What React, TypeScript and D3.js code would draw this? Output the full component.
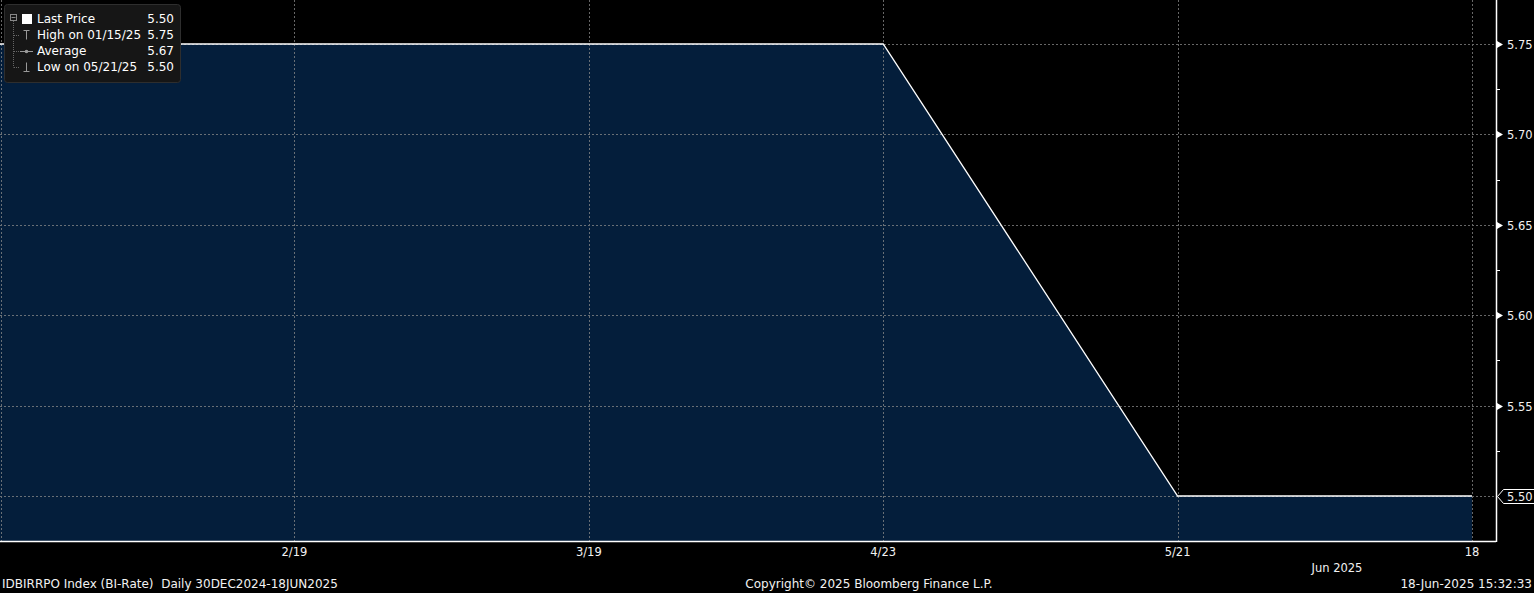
import React, { useEffect, useRef } from 'react';
import * as d3 from 'd3';

// meeting dates of the BI-Rate series and the rate on each
const dates = ['2025-01-15', '2025-02-19', '2025-03-19', '2025-04-23', '2025-05-21', '2025-06-18'];
const rates = [5.75, 5.75, 5.75, 5.75, 5.5, 5.5];
const xTickLabels = ['', '2/19', '3/19', '4/23', '5/21', '18'];
const yTicks = [5.5, 5.55, 5.6, 5.65, 5.7, 5.75];
const legendLabels = ['Last Price', 'High on 01/15/25', 'Average', 'Low on 05/21/25'];

const FONT = '"DejaVu Sans", Tahoma, sans-serif';

const App = () => {
  const svgRef = useRef<SVGSVGElement | null>(null);
  const width = 1534;
  const height = 593;

  useEffect(() => {
    document.body.style.margin = '0';
    document.body.style.background = '#000';
    const svg = d3.select(svgRef.current);
    svg.selectAll('*').remove();

    const plotRight = 1496;
    const plotBottom = 541;

    const data = dates.map((d, i) => ({ date: d, value: rates[i], i }));
    const x = d3.scaleLinear().domain([0, data.length - 1]).range([0, 1472]);
    // 5.75 at y=44, 5.50 at y=496
    const y = d3.scaleLinear().domain([5.5, 5.75]).range([496, 44]);

    svg.append('rect').attr('width', width).attr('height', height).attr('fill', '#000');

    // area under the line
    const area = d3
      .area<{ value: number; i: number }>()
      .x((d) => x(d.i))
      .y0(plotBottom)
      .y1((d) => y(d.value));
    svg.append('path').datum(data).attr('d', area as any).attr('fill', '#041e3b');

    // grid
    const grid = svg.append('g').attr('stroke', '#8a8a8a').attr('stroke-width', 1).attr('stroke-dasharray', '2,2').attr('opacity', 0.75);
    grid
      .selectAll('line.h')
      .data(yTicks)
      .enter()
      .append('line')
      .attr('x1', 0)
      .attr('x2', plotRight)
      .attr('y1', (d) => Math.round(y(d)) + 0.5)
      .attr('y2', (d) => Math.round(y(d)) + 0.5);
    grid
      .selectAll('line.v')
      .data(data)
      .enter()
      .append('line')
      .attr('x1', (d) => Math.max(1.5, Math.round(x(d.i)) + 0.5))
      .attr('x2', (d) => Math.max(1.5, Math.round(x(d.i)) + 0.5))
      .attr('y1', 0)
      .attr('y2', plotBottom);

    // price line
    const line = d3
      .line<{ value: number; i: number }>()
      .x((d) => x(d.i))
      .y((d) => y(d.value));
    svg.append('path').datum(data).attr('d', line as any).attr('fill', 'none').attr('stroke', '#fff').attr('stroke-width', 1.3);

    // axes lines
    svg.append('line').attr('x1', 0).attr('x2', plotRight).attr('y1', plotBottom + 0.5).attr('y2', plotBottom + 0.5).attr('stroke', '#fff').attr('stroke-width', 1.5);
    svg.append('line').attr('x1', plotRight + 0.5).attr('x2', plotRight + 0.5).attr('y1', 0).attr('y2', plotBottom + 1).attr('stroke', '#fff').attr('stroke-width', 1.5);

    // right axis: major ticks with arrow markers, minor ticks in between
    const lastValue = rates[rates.length - 1];
    yTicks
      .filter((t) => t !== lastValue)
      .forEach((t) => {
        const yy = Math.round(y(t)) + 0.5;
        svg
          .append('path')
          .attr('d', `M${plotRight + 1},${yy - 3.5} L${plotRight + 7},${yy} L${plotRight + 1},${yy + 3.5} Z`)
          .attr('fill', '#fff');
        svg
          .append('text')
          .attr('x', plotRight + 11)
          .attr('y', yy)
          .attr('dy', '0.35em')
          .attr('fill', '#f2f2f2')
          .style('font-family', FONT)
          .style('font-size', '11.5px')
          .text(t.toFixed(2));
      });
    const minor = d3.range(5.475, 5.78, 0.05);
    minor.forEach((t) => {
      const yy = Math.round(y(t)) + 0.5;
      if (yy < 0 || yy > plotBottom) return;
      svg.append('line').attr('x1', plotRight).attr('x2', plotRight + 4).attr('y1', yy).attr('y2', yy).attr('stroke', '#fff').attr('stroke-width', 1);
    });

    // last price tag
    const ly = Math.round(y(lastValue)) + 0.5;
    svg
      .append('path')
      .attr('d', `M${plotRight + 1.5},${ly} L${plotRight + 7.5},${ly - 7} H${plotRight + 45} V${ly + 7} H${plotRight + 7.5} Z`)
      .attr('fill', '#000')
      .attr('stroke', '#fff')
      .attr('stroke-width', 1);
    svg
      .append('text')
      .attr('x', plotRight + 11)
      .attr('y', ly)
      .attr('dy', '0.35em')
      .attr('fill', '#f2f2f2')
      .style('font-family', FONT)
      .style('font-size', '11.5px')
      .text(lastValue.toFixed(2));

    // bottom axis labels
    svg
      .selectAll('text.xlab')
      .data(data)
      .enter()
      .append('text')
      .attr('x', (d) => x(d.i))
      .attr('y', 556)
      .attr('text-anchor', 'middle')
      .attr('fill', '#f2f2f2')
      .style('font-family', FONT)
      .style('font-size', '11.5px')
      .text((d, i) => xTickLabels[i]);
    svg
      .append('text')
      .attr('x', 1337)
      .attr('y', 572)
      .attr('text-anchor', 'middle')
      .attr('fill', '#f2f2f2')
      .style('font-family', FONT)
      .style('font-size', '11.5px')
      .text('Jun 2025');

    // footer
    const footer = [
      { text: 'IDBIRRPO Index (BI-Rate)  Daily 30DEC2024-18JUN2025', x: 2, anchor: 'start' },
      { text: 'Copyright\u00A9 2025 Bloomberg Finance L.P.', x: 869, anchor: 'middle' },
      { text: '18-Jun-2025 15:32:33', x: 1532, anchor: 'end' }
    ];
    footer.forEach((f) => {
      svg
        .append('text')
        .attr('x', f.x)
        .attr('y', 588)
        .attr('text-anchor', f.anchor)
        .attr('fill', '#f2f2f2')
        .style('font-family', FONT)
        .style('font-size', '12px')
        .style('white-space', 'pre')
        .text(f.text);
    });

    // legend
    const high = d3.max(rates) as number;
    const low = d3.min(rates) as number;
    const avg = d3.mean(rates) as number;
    const legendValues = [lastValue, high, avg, low];
    const lg = svg.append('g');
    lg.append('rect').attr('x', 4.5).attr('y', 4.5).attr('width', 176).attr('height', 78).attr('rx', 3).attr('fill', '#161616').attr('stroke', '#2e2e2e');
    const rowY = (i: number) => 19 + i * 16;
    // tree connectors
    lg.append('rect').attr('x', 10.5).attr('y', 14.5).attr('width', 6).attr('height', 6).attr('fill', 'none').attr('stroke', '#888');
    lg.append('line').attr('x1', 11.5).attr('x2', 15.5).attr('y1', 17.5).attr('y2', 17.5).attr('stroke', '#888');
    lg.append('line').attr('x1', 13.5).attr('x2', 13.5).attr('y1', 21).attr('y2', rowY(3) + 0.5).attr('stroke', '#666').attr('stroke-dasharray', '1,1');
    [1, 2, 3].forEach((i) => {
      lg.append('line').attr('x1', 14).attr('x2', 19).attr('y1', rowY(i) + 0.5).attr('y2', rowY(i) + 0.5).attr('stroke', '#666').attr('stroke-dasharray', '1,1');
    });
    lg.append('rect').attr('x', 22).attr('y', rowY(0) - 5).attr('width', 10).attr('height', 10).attr('fill', '#fff');
    // high icon
    lg.append('path').attr('d', `M23.5,${rowY(1) - 4.5} H29.5 M26.5,${rowY(1) - 4.5} V${rowY(1) + 4.5}`).attr('stroke', '#999').attr('fill', 'none');
    // average icon
    lg.append('path').attr('d', `M20,${rowY(2) + 0.5} H33`).attr('stroke', '#999').attr('fill', 'none');
    lg.append('circle').attr('cx', 26.5).attr('cy', rowY(2) + 0.5).attr('r', 1.8).attr('fill', '#999');
    // low icon
    lg.append('path').attr('d', `M23.5,${rowY(3) + 4.5} H29.5 M26.5,${rowY(3) - 4.5} V${rowY(3) + 4.5}`).attr('stroke', '#999').attr('fill', 'none');

    legendLabels.forEach((label, i) => {
      lg.append('text')
        .attr('x', 37)
        .attr('y', rowY(i))
        .attr('dy', '0.35em')
        .attr('fill', '#fff')
        .style('font-family', FONT)
        .style('font-size', '12px')
        .text(label);
      lg.append('text')
        .attr('x', 174)
        .attr('y', rowY(i))
        .attr('dy', '0.35em')
        .attr('text-anchor', 'end')
        .attr('fill', '#fff')
        .style('font-family', FONT)
        .style('font-size', '12px')
        .text(legendValues[i].toFixed(2));
    });
  }, []);

  return (
    <svg
      ref={svgRef}
      width={width}
      height={height}
      style={{ position: 'absolute', left: 0, top: 0, display: 'block' }}
    ></svg>
  );
};

export default App;
